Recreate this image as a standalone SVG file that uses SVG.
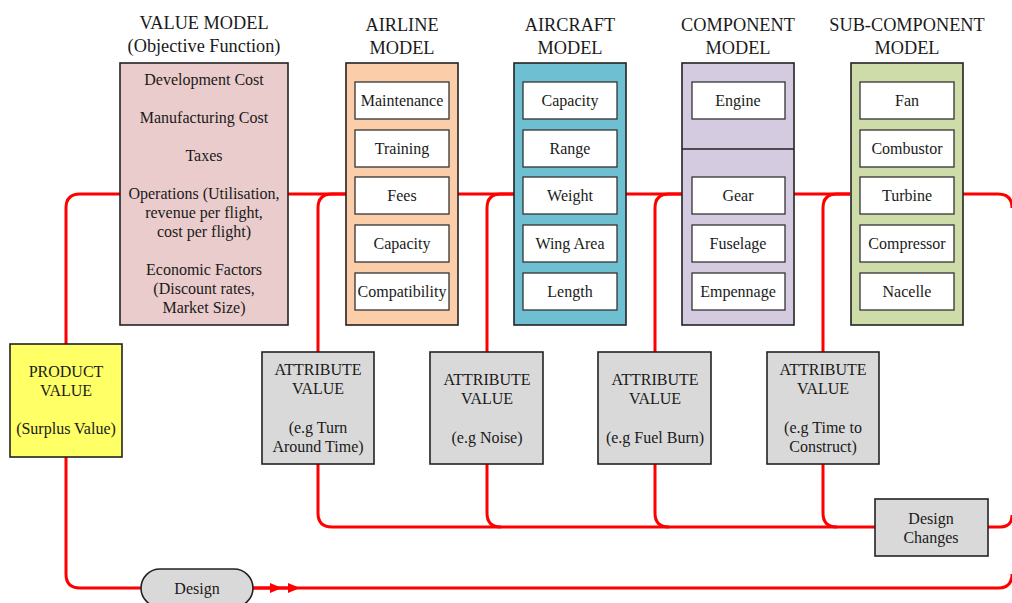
<svg xmlns="http://www.w3.org/2000/svg" width="1012" height="603" viewBox="0 0 1012 603">
<defs>
<style>
text{font-family:'Liberation Serif','DejaVu Serif',serif;fill:#1a1a1a;text-anchor:middle}
.hd{font-size:18.3px}
.t{font-size:16px}
.box{stroke:#222;stroke-width:1.6}
.in{fill:#fff;stroke:#333;stroke-width:1.3}
.gray{fill:#d9d9d9;stroke:#222;stroke-width:1.6}
.wire{fill:none;stroke:#ff0000;stroke-width:3}
</style>
<marker id="ah" markerWidth="12" markerHeight="10" refX="6" refY="5" orient="auto" markerUnits="userSpaceOnUse">
<path d="M0,0 L12,5 L0,10 Z" fill="#ff0000"/>
</marker>
</defs>
<rect width="1012" height="603" fill="#fff"/>

<g id="connectors">
<path class="wire" d="M120 194 H80 Q66 194 66 208 V574 Q66 588 80 588 H141"/>
<path class="wire" d="M288 194 H346"/>
<path class="wire" d="M458 194 H514"/>
<path class="wire" d="M626 194 H682"/>
<path class="wire" d="M794 194 H850"/>
<path class="wire" d="M963 194 H998 Q1012 194 1012 208"/>
<path class="wire" d="M346 194 H332 Q318 194 318 208 V352"/>
<path class="wire" d="M514 194 H501 Q487 194 487 208 V352"/>
<path class="wire" d="M682 194 H669 Q655 194 655 208 V352"/>
<path class="wire" d="M850 194 H837 Q823 194 823 208 V352"/>
<path class="wire" d="M318 464 V513 Q318 527 332 527 H875"/>
<path class="wire" d="M487 464 V513 Q487 527 501 527"/>
<path class="wire" d="M655 464 V513 Q655 527 669 527"/>
<path class="wire" d="M823 464 V513 Q823 527 837 527"/>
<path class="wire" d="M988 527 H1000 Q1012 527 1012 515"/>
<path class="wire" d="M253 588 H998 Q1012 588 1012 574"/>
<path class="wire" d="M253 588 H276" marker-end="url(#ah)"/>
<path class="wire" d="M276 588 H294" marker-end="url(#ah)"/>
</g>

<g id="value-model">
<text class="hd" x="204" y="29">VALUE MODEL</text>
<text class="hd" x="204" y="52">(Objective Function)</text>
<rect class="box" x="120" y="63" width="168" height="262" fill="#eacccc"/>
<text class="t" x="204" y="85">Development Cost</text>
<text class="t" x="204" y="123">Manufacturing Cost</text>
<text class="t" x="204" y="161">Taxes</text>
<text class="t" x="204" y="199">Operations (Utilisation,</text>
<text class="t" x="204" y="218">revenue per flight,</text>
<text class="t" x="204" y="237">cost per flight)</text>
<text class="t" x="204" y="275">Economic Factors</text>
<text class="t" x="204" y="294">(Discount rates,</text>
<text class="t" x="204" y="313">Market Size)</text>
</g>

<g id="airline-model">
<text class="hd" x="402" y="31">AIRLINE</text>
<text class="hd" x="402" y="54">MODEL</text>
<rect class="box" x="346" y="63" width="112" height="262" fill="#fbcda8"/>
<rect class="in" x="355" y="82" width="94" height="37"/><text class="t" x="402" y="106">Maintenance</text>
<rect class="in" x="355" y="130" width="94" height="37"/><text class="t" x="402" y="154">Training</text>
<rect class="in" x="355" y="177" width="94" height="37"/><text class="t" x="402" y="201">Fees</text>
<rect class="in" x="355" y="225" width="94" height="37"/><text class="t" x="402" y="249">Capacity</text>
<rect class="in" x="355" y="273" width="94" height="37"/><text class="t" x="402" y="297">Compatibility</text>
</g>

<g id="aircraft-model">
<text class="hd" x="570" y="31">AIRCRAFT</text>
<text class="hd" x="570" y="54">MODEL</text>
<rect class="box" x="514" y="63" width="112" height="262" fill="#6fbfd3"/>
<rect class="in" x="523" y="82" width="94" height="37"/><text class="t" x="570" y="106">Capacity</text>
<rect class="in" x="523" y="130" width="94" height="37"/><text class="t" x="570" y="154">Range</text>
<rect class="in" x="523" y="177" width="94" height="37"/><text class="t" x="570" y="201">Weight</text>
<rect class="in" x="523" y="225" width="94" height="37"/><text class="t" x="570" y="249">Wing Area</text>
<rect class="in" x="523" y="273" width="94" height="37"/><text class="t" x="570" y="297">Length</text>
</g>

<g id="component-model">
<text class="hd" x="738" y="31">COMPONENT</text>
<text class="hd" x="738" y="54">MODEL</text>
<rect class="box" x="682" y="63" width="112" height="262" fill="#d4cbe0"/>
<line x1="682" y1="149" x2="794" y2="149" stroke="#222" stroke-width="1.3"/>
<rect class="in" x="692" y="82" width="93" height="37"/><text class="t" x="738" y="106">Engine</text>
<rect class="in" x="692" y="177" width="93" height="37"/><text class="t" x="738" y="201">Gear</text>
<rect class="in" x="692" y="225" width="93" height="37"/><text class="t" x="738" y="249">Fuselage</text>
<rect class="in" x="692" y="273" width="93" height="37"/><text class="t" x="738" y="297">Empennage</text>
</g>

<g id="sub-component-model">
<text class="hd" x="907" y="31">SUB-COMPONENT</text>
<text class="hd" x="907" y="54">MODEL</text>
<rect class="box" x="851" y="63" width="112" height="262" fill="#cddca9"/>
<rect class="in" x="860" y="82" width="94" height="37"/><text class="t" x="907" y="106">Fan</text>
<rect class="in" x="860" y="130" width="94" height="37"/><text class="t" x="907" y="154">Combustor</text>
<rect class="in" x="860" y="177" width="94" height="37"/><text class="t" x="907" y="201">Turbine</text>
<rect class="in" x="860" y="225" width="94" height="37"/><text class="t" x="907" y="249">Compressor</text>
<rect class="in" x="860" y="273" width="94" height="37"/><text class="t" x="907" y="297">Nacelle</text>
</g>

<g id="product-value">
<rect class="box" x="10" y="344" width="112" height="113" fill="#ffff66"/>
<text class="t" x="66" y="377">PRODUCT</text>
<text class="t" x="66" y="396">VALUE</text>
<text class="t" x="66" y="434">(Surplus Value)</text>
</g>

<g id="attr-1">
<rect class="gray" x="262" y="352" width="112" height="112"/>
<text class="t" x="318" y="375">ATTRIBUTE</text>
<text class="t" x="318" y="394">VALUE</text>
<text class="t" x="318" y="433">(e.g Turn</text>
<text class="t" x="318" y="452">Around Time)</text>
</g>
<g id="attr-2">
<rect class="gray" x="430" y="352" width="113" height="112"/>
<text class="t" x="487" y="385">ATTRIBUTE</text>
<text class="t" x="487" y="404">VALUE</text>
<text class="t" x="487" y="443">(e.g Noise)</text>
</g>
<g id="attr-3">
<rect class="gray" x="598" y="352" width="113" height="112"/>
<text class="t" x="655" y="385">ATTRIBUTE</text>
<text class="t" x="655" y="404">VALUE</text>
<text class="t" x="655" y="443">(e.g Fuel Burn)</text>
</g>
<g id="attr-4">
<rect class="gray" x="767" y="352" width="112" height="112"/>
<text class="t" x="823" y="375">ATTRIBUTE</text>
<text class="t" x="823" y="394">VALUE</text>
<text class="t" x="823" y="433">(e.g Time to</text>
<text class="t" x="823" y="452">Construct)</text>
</g>

<g id="design-changes">
<rect class="gray" x="875" y="499" width="113" height="57"/>
<text class="t" x="931" y="524">Design</text>
<text class="t" x="931" y="543">Changes</text>
</g>

<g id="design">
<rect class="gray" x="141" y="569" width="112" height="38" rx="19"/>
<text class="t" x="197" y="594">Design</text>
</g>
</svg>
